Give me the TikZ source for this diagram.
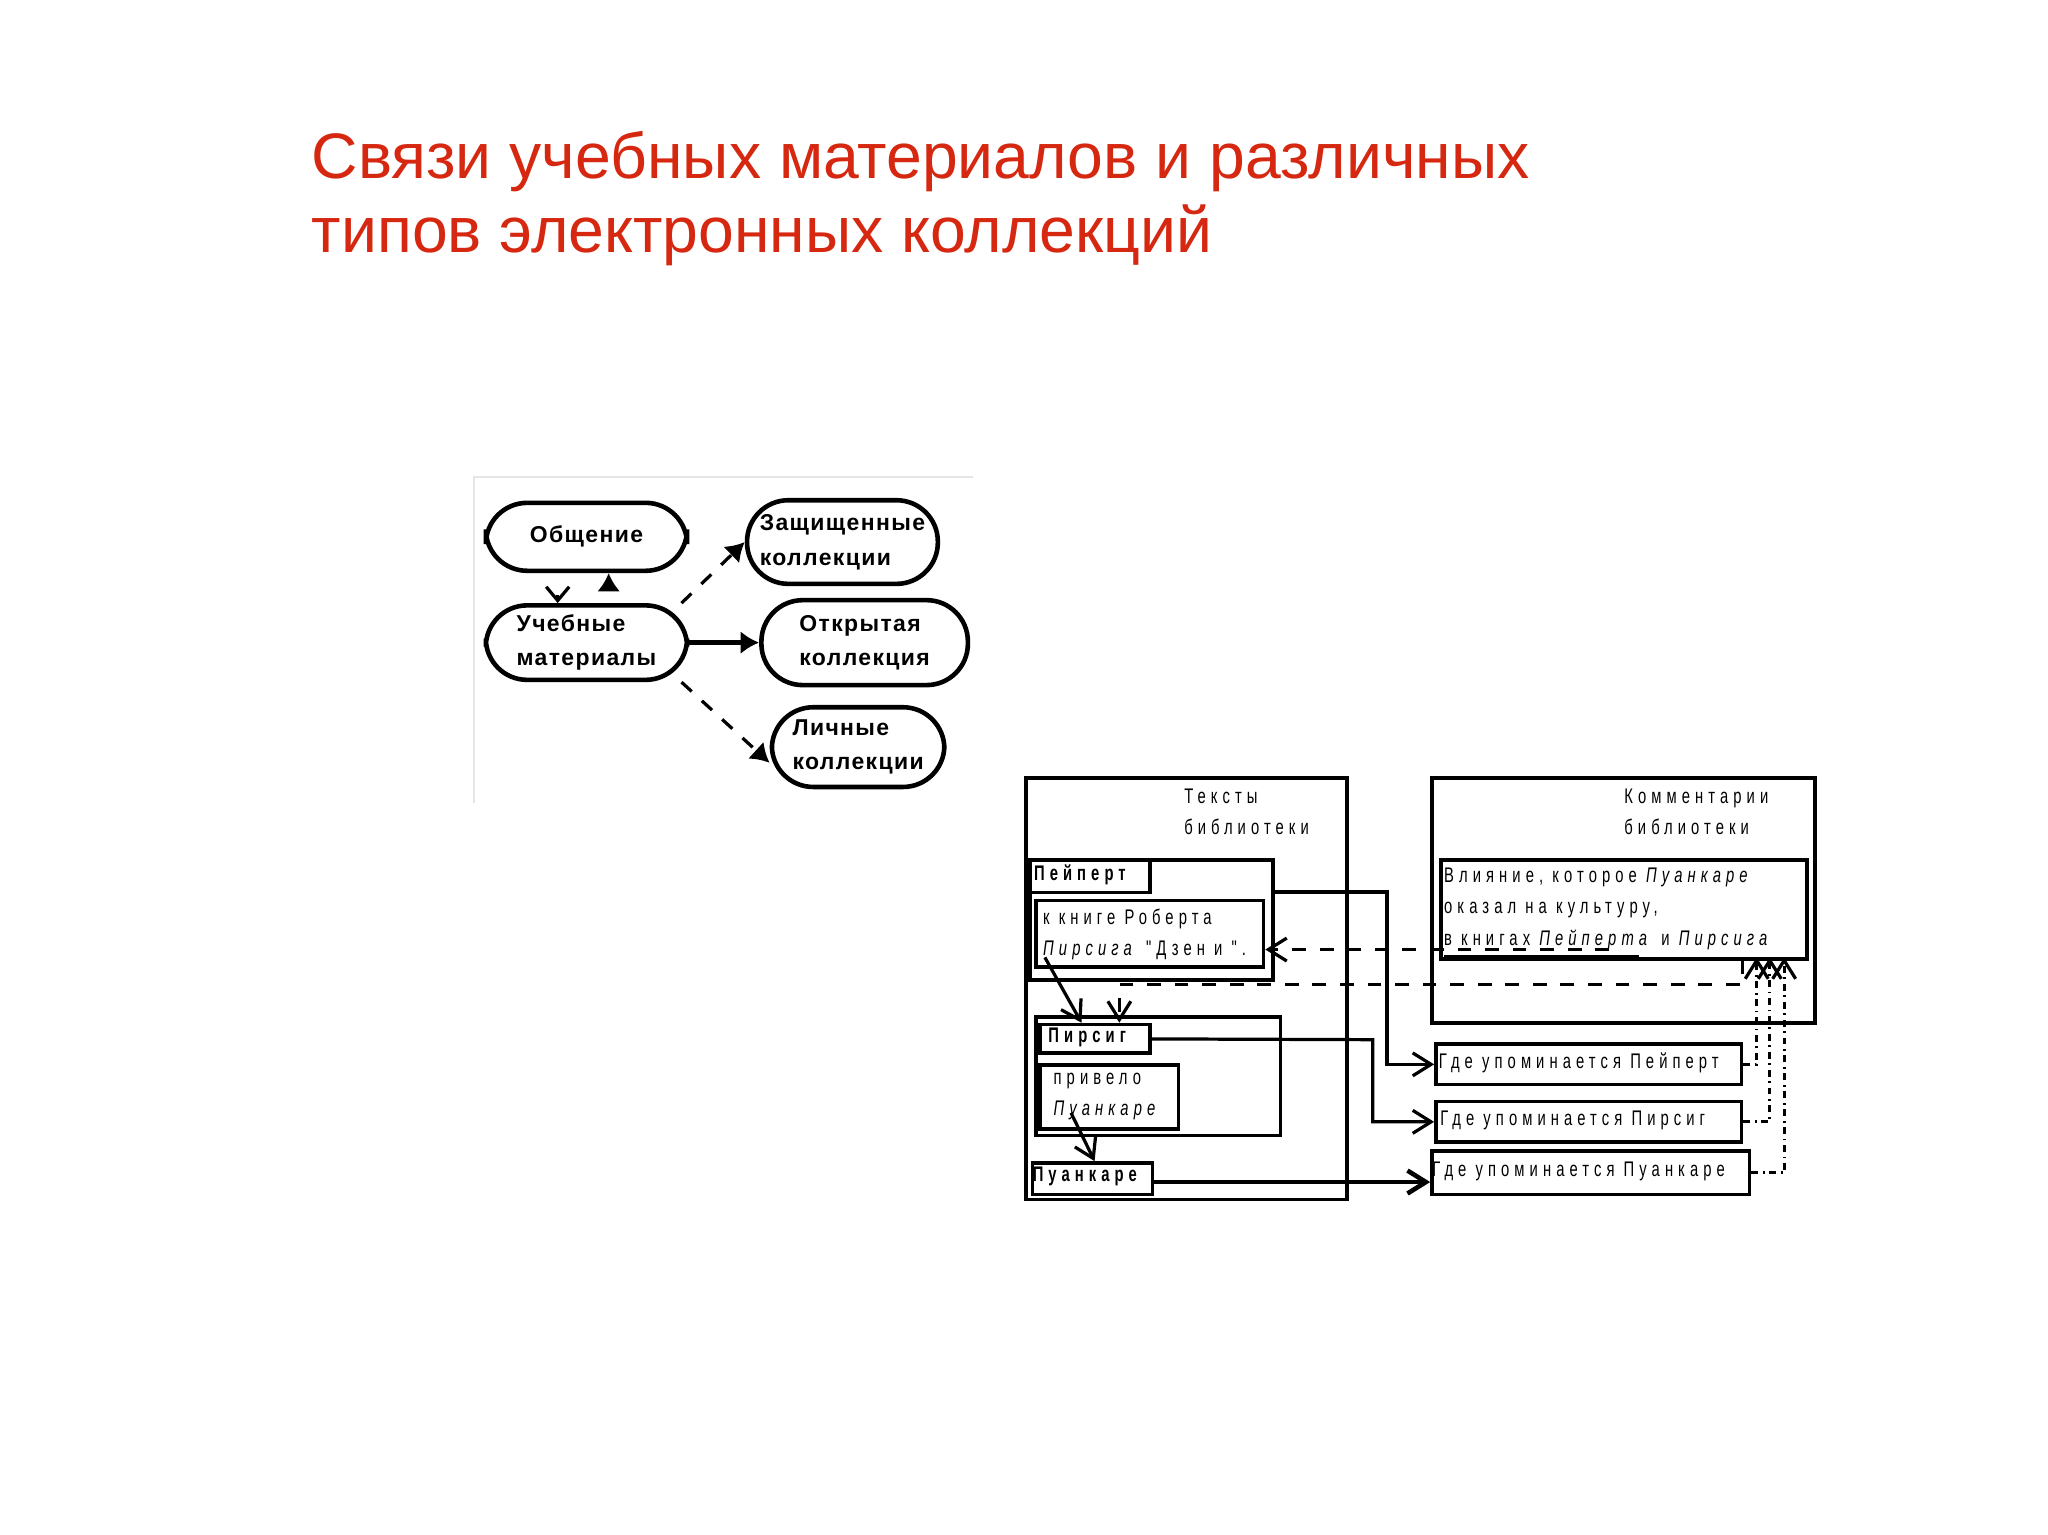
\documentclass[tikz,border=0pt]{standalone}
\usepackage{fontspec}
\setmainfont{Liberation Sans}
\newfontfamily\titlefont{Liberation Sans}
\newfontfamily\spfont[LetterSpace=24,FakeStretch=0.7]{Liberation Sans}
\newfontfamily\pixfont[LetterSpace=6]{Liberation Sans}
\usetikzlibrary{arrows.meta}
\definecolor{titlered}{RGB}{214,40,16}
\newcommand\bx[6][]{\node[box,#1,minimum width={(#5-#3)*0.01cm},minimum height={(#6-#4)*0.01cm}] (#2) at (#3,#4) {};}
\begin{document}
\begin{tikzpicture}[x=0.01cm,y=-0.01cm,
  box/.style={draw,inner sep=0pt,anchor=north west,line width=0.8pt},
  rbox/.style={draw,rounded corners=9pt,line width=1pt,align=left,inner sep=0pt,
     font=\pixfont\bfseries\fontsize{5}{7.5}\selectfont},
  sptxt/.style={anchor=north west,align=left,inner sep=0pt,font=\spfont\fontsize{4.6}{6.8}\selectfont},
  spbold/.style={sptxt,font=\spfont\bfseries\fontsize{4.6}{6.8}\selectfont},
  conn/.style={line width=0.7pt},
  arr/.style={conn,-{Straight Barb[length=4pt,width=5pt]}},
  darr/.style={arr,dashed},
  dotarr/.style={arr,dash pattern=on 1.5pt off 1pt on 0.4pt off 1pt}]
\useasboundingbox (0,0) rectangle (1568,1175);
% title
\node[anchor=base west,inner sep=0pt,text=titlered,font=\titlefont\fontsize{14}{16}\selectfont] (t1) at (238,137) {Связи учебных материалов и различных};
\node[anchor=base west,inner sep=0pt,text=titlered,font=\titlefont\fontsize{14}{16}\selectfont] (t2) at (238,193) {типов электронных коллекций};
% left diagram
\draw[gray!20] (363,615) -- (363,365) -- (745,365);
\node[rbox,minimum width=1.54cm,minimum height=0.52cm] (obsh) at (449,411) {Общение};
\node[rbox,minimum width=1.54cm,minimum height=0.57cm] (ucheb) at (449,492) {Учебные\\материалы};
\node[rbox,minimum width=1.46cm,minimum height=0.64cm] (zash) at (645,415) {Защищенные\\коллекции};
\node[rbox,minimum width=1.58cm,minimum height=0.65cm] (otkr) at (662,492) {Открытая\\коллекция};
\node[rbox,minimum width=1.32cm,minimum height=0.61cm] (lich) at (657,572) {Личные\\коллекции};
\draw[conn,-{Latex[length=4pt,width=5pt]}] ([xshift=0.17cm]obsh.south) ++(0,6) -- ++(0,-6);
\draw[conn,-{Straight Barb[length=3pt,width=5pt]}] ([xshift=-0.22cm]ucheb.north) ++(0,-6) -- ++(0,6);
\draw[conn,dashed,-{Latex[length=4pt,width=5pt]}] ([xshift=-0.06cm]ucheb.north east) -- (zash.west);
\draw[conn,line width=1pt,-{Latex[length=4pt,width=5pt]}] (ucheb.east) -- (otkr.west);
\draw[conn,dashed,-{Latex[length=4pt,width=5pt]}] ([xshift=-0.06cm]ucheb.south east) -- ([yshift=-0.12cm]lich.west);
% right diagram: texts box
\bx{texts}{784}{594}{1030}{917}
\node[sptxt] (textsT) at (906,603) {Тексты\\библиотеки};
\bx{peipB}{787}{657}{973}{749}
\bx{peipL}{787}{657}{879}{682}
\node[spbold,anchor=west] (peipT) at (791,670) {Пейперт};
\bx{knigaB}{792}{688}{966}{739}
\node[sptxt] (knigaT) at (798,695) {к книге Роберта\\\emph{Пирсига} "Дзен и ".};
\bx{pirsB}{792}{777}{979}{868}
\bx{pirsL}{795}{783}{879}{805}
\node[spbold,anchor=west] (pirsT) at (802,794) {Пирсиг};
\bx{privB}{795}{814}{901}{863}
\node[sptxt] (privT) at (806,821) {привело\\\emph{Пуанкаре}};
\bx{puanL}{789}{889}{881}{913}
\node[spbold,anchor=west] (puanT) at (790,901) {Пуанкаре};
% comments box
\bx{comm}{1095}{594}{1388}{782}
\node[sptxt] (commT) at (1243,603) {Комментарии\\библиотеки};
\bx{vliyB}{1102}{657}{1382}{733}
\node[sptxt] (vliyT) at (1105,664) {Влияние, которое \emph{Пуанкаре}\\ оказал на культуру,\\ \underline{в книгах \emph{Пейперт}}\emph{а} и \emph{Пирсига}};
\bx{gdePe}{1098}{798}{1332}{829}
\node[sptxt,anchor=west] (gdePeT) at (1101,814) {Где упоминается Пейперт};
\bx{gdePi}{1098}{842}{1332}{873}
\node[sptxt,anchor=west] (gdePiT) at (1102,858) {Где упоминается Пирсиг};
\bx{gdePu}{1095}{880}{1338}{913}
\node[sptxt,anchor=west] (gdePuT) at (1096,897) {Где упоминается Пуанкаре};
% connectors
\coordinate (c1) at (1062,683);
\draw[arr] (peipB.east |- c1) -- (c1) |- (gdePe.west);
\draw[arr] (pirsL.east) -- (1051,796) |- (gdePi.west);
\draw[arr,line width=1pt] (puanL.east |- 0,905) -- (gdePu.west |- 0,905);
\draw[arr] (800,733) -- ([xshift=0.33cm]pirsL.north west);
\draw[arr] (820,852) -- ([xshift=0.49cm]puanL.north west);
\draw[darr] (1232,727) -- (knigaB.east |- 0,727);
\draw[darr] (1334,735) -- (1334,754) -- (857,754) -- (857,783);
\draw[dotarr] (gdePe.east) -| (1345,733);
\draw[dotarr] (gdePi.east) -| (1355,733);
\draw[dotarr] (gdePu.east) -| (1366,733);
\end{tikzpicture}
\end{document}
